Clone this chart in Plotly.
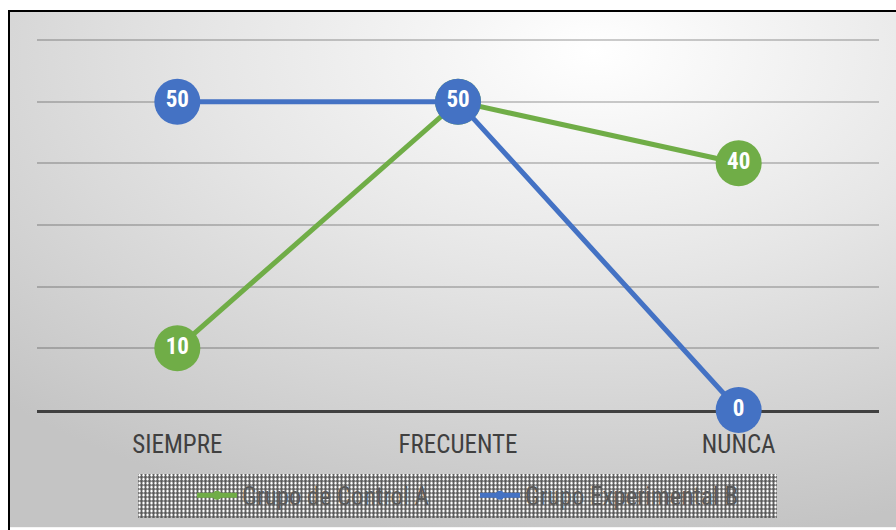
import base64
import plotly.graph_objects as go

# Survey responses per frequency category
categorias = ["SIEMPRE", "FRECUENTE", "NUNCA"]
grupo_control_a = [10, 50, 40]
grupo_experimental_b = [50, 50, 0]
series_nombres = ["Grupo de Control A", "Grupo Experimental B"]

VERDE = "#70AD47"
AZUL = "#4472C4"
FUENTE = "Liberation Sans Narrow, Arial Narrow, Roboto Condensed, Liberation Sans, sans-serif"

W, H = 896, 530
L, R, T, B = 37, 17, 34, 118
PW, PH = W - L - R, H - T - B
Y_MAX = 60 * PH / 372  # keeps 10 units = 62 px, leaves room for the top gridline


def px_x(x):
    return (x - L) / PW


def px_y(y):
    return (H - B - y) / PH


def svg_uri(svg):
    return "data:image/svg+xml;base64," + base64.b64encode(svg.encode()).decode()


# Chart-area background: soft radial gradient
fondo_svg = (
    '<svg xmlns="http://www.w3.org/2000/svg" width="888" height="520">'
    '<defs><radialGradient id="g" cx="0.66" cy="0.08" r="0.95">'
    '<stop offset="0" stop-color="#ffffff"/>'
    '<stop offset="0.45" stop-color="#e6e6e6"/>'
    '<stop offset="1" stop-color="#c4c4c4"/>'
    '</radialGradient></defs>'
    '<rect width="888" height="520" fill="url(#g)"/></svg>'
)

# Legend box: fine dotted pattern fill
leyenda_w, leyenda_h = 639, 45
leyenda_svg = (
    f'<svg xmlns="http://www.w3.org/2000/svg" width="{leyenda_w}" height="{leyenda_h}" shape-rendering="crispEdges">'
    '<defs><pattern id="p" width="4" height="4" patternUnits="userSpaceOnUse">'
    '<rect width="4" height="4" fill="#767676"/>'
    '<rect x="1" y="0" width="1" height="3" fill="#ffffff"/>'
    '<rect x="0" y="1" width="3" height="1" fill="#ffffff"/>'
    '<rect x="3" y="3" width="1" height="1" fill="#3c3c3c"/>'
    '<rect x="3" y="1" width="1" height="1" fill="#4c4c4c"/>'
    '<rect x="1" y="3" width="1" height="1" fill="#4c4c4c"/>'
    '</pattern></defs>'
    f'<rect width="{leyenda_w}" height="{leyenda_h}" fill="url(#p)"/></svg>'
)

fig = go.Figure()

for nombre, valores, color in [
    (series_nombres[0], grupo_control_a, VERDE),
    (series_nombres[1], grupo_experimental_b, AZUL),
]:
    fig.add_trace(go.Scatter(
        x=categorias, y=valores, mode="lines+markers+text",
        line=dict(color=color, width=5),
        marker=dict(size=46, color=color, line=dict(width=0)),
        text=[str(v) for v in valores], textposition="middle center",
        textfont=dict(color="white", size=23, family=FUENTE, weight="bold"),
        cliponaxis=False, showlegend=False, hoverinfo="skip",
    ))

# Legend entries with small markers
for nombre, color in [(series_nombres[0], VERDE), (series_nombres[1], AZUL)]:
    fig.add_trace(go.Scatter(
        x=[None], y=[None], mode="lines+markers", name=nombre,
        line=dict(color=color, width=5), marker=dict(size=9, color=color),
    ))

fig.update_layout(
    width=W, height=H,
    margin=dict(l=L, r=R, t=T, b=B),
    paper_bgcolor="white",
    plot_bgcolor="rgba(0,0,0,0)",
    font=dict(family=FUENTE, color="#595959"),
    xaxis=dict(
        type="category", range=[-0.5, 2.5], showgrid=False,
        showline=True, linecolor="#404040", linewidth=3,
        layer="below traces",
        ticks="", tickfont=dict(size=25, color="#404040"),
        ticklabelstandoff=10,
        fixedrange=True,
    ),
    yaxis=dict(
        range=[0, Y_MAX], tickvals=[10, 20, 30, 40, 50, 60],
        showticklabels=False, ticks="",
        showgrid=True, gridcolor="rgba(0,0,0,0.2)", gridwidth=2,
        zeroline=False, showline=False, fixedrange=True,
        layer="below traces",
    ),
    legend=dict(
        orientation="h", x=px_x(475), xanchor="center",
        y=px_y(498), yanchor="middle",
        bgcolor="rgba(0,0,0,0)",
        font=dict(size=25, color="#595959", family=FUENTE),
        itemwidth=40, tracegroupgap=0, entrywidth=228,
    ),
    images=[
        dict(source=svg_uri(fondo_svg), xref="paper", yref="paper",
             x=px_x(8), y=px_y(10), sizex=(896 - 8) / PW, sizey=(530 - 10) / PH,
             xanchor="left", yanchor="top", sizing="stretch", layer="below"),
        dict(source=svg_uri(leyenda_svg), xref="paper", yref="paper",
             x=px_x(138), y=px_y(476), sizex=leyenda_w / PW, sizey=leyenda_h / PH,
             xanchor="left", yanchor="top", sizing="stretch", layer="below"),
    ],
    shapes=[
        dict(type="rect", xref="paper", yref="paper",
             x0=px_x(9), x1=px_x(905), y0=px_y(540), y1=px_y(11),
             line=dict(color="black", width=2), fillcolor="rgba(0,0,0,0)",
             layer="above"),
    ],
)

fig.write_html("out.html")
